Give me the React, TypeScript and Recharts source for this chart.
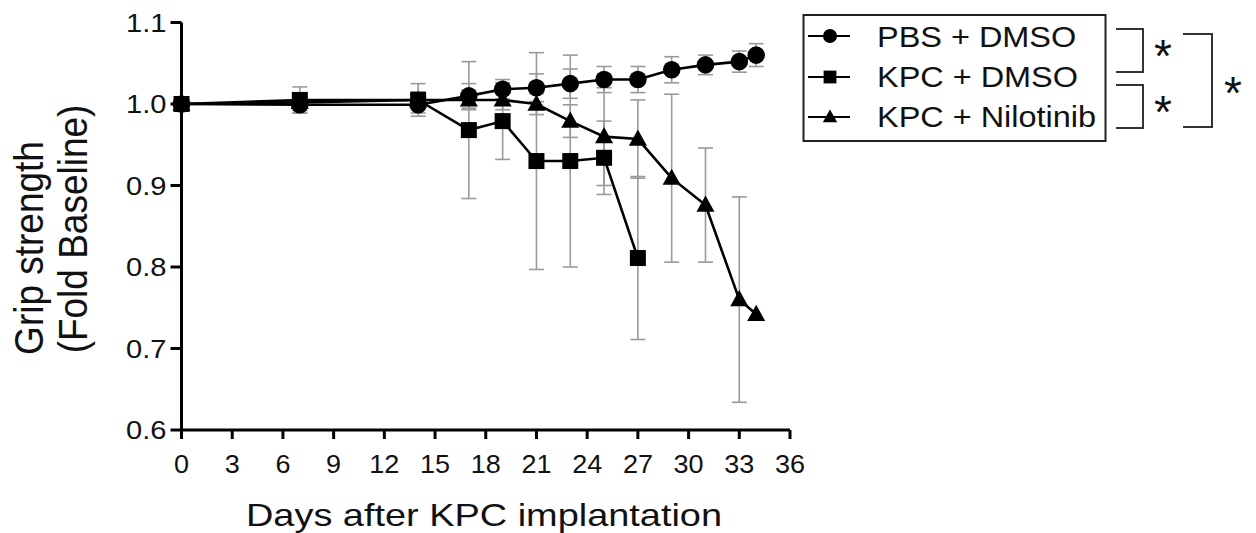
import { LineChart, Line, XAxis, YAxis, ErrorBar } from "recharts";

// days after implantation, mean grip strength (fold baseline), SEM
const pbsDays = [0, 7, 14, 17, 19, 21, 23, 25, 27, 29, 31, 33, 34];
const pbsMean = [1.0, 0.999, 0.999, 1.01, 1.018, 1.02, 1.025, 1.03, 1.03, 1.042, 1.048, 1.052, 1.06];
const pbsSem = [0, 0.01, 0.01, 0.015, 0.012, 0.017, 0.018, 0.016, 0.016, 0.016, 0.012, 0.013, 0.014];

const kpcDays = [0, 7, 14, 17, 19, 21, 23, 25, 27];
const kpcMean = [1.0, 1.005, 1.005, 0.968, 0.979, 0.93, 0.93, 0.934, 0.811];
const kpcSem = [0, 0.016, 0.02, 0.084, 0.047, 0.133, 0.13, 0.045, 0.1];

const niloDays = [0, 7, 14, 17, 19, 21, 23, 25, 27, 29, 31, 33, 34];
const niloMean = [1.0, 1.002, 1.005, 1.005, 1.005, 1.0, 0.979, 0.96, 0.957, 0.909, 0.876, 0.76, 0.742];
const niloSem = [0, 0.01, 0.01, 0.012, 0.012, 0.013, 0.02, 0.06, 0.048, 0.103, 0.07, 0.126, 0];

const xTicks = [0, 3, 6, 9, 12, 15, 18, 21, 24, 27, 30, 33, 36];
const yTicks = [0.6, 0.7, 0.8, 0.9, 1.0, 1.1];

const seriesNames = ["PBS + DMSO", "KPC + DMSO", "KPC + Nilotinib"];

const toRows = (days: number[], mean: number[], sem: number[]) =>
  days.map((d, i) => ({ day: d, value: mean[i], err: sem[i] }));

const FONT = "'Liberation Sans', Arial, sans-serif";
const ERR = "#9a9a9a";
const TXT = "#111";
// the source figure is slightly stretched sideways
const SX = 1.12;

type Kind = "circle" | "square" | "triangle";

function Marker({ kind, cx, cy, s = 1 }: { kind: Kind; cx: number; cy: number; s?: number }) {
  if (kind === "circle") return <circle cx={cx} cy={cy} r={8.8 * s} fill="#000" />;
  if (kind === "square") {
    const h = 8 * s;
    return <rect x={cx - h} y={cy - h} width={2 * h} height={2 * h} fill="#000" />;
  }
  const h = 9.5 * s;
  return (
    <polygon
      points={`${cx},${cy - h} ${cx + h * 0.95},${cy + h * 0.7} ${cx - h * 0.95},${cy + h * 0.7}`}
      fill="#000"
    />
  );
}

const dotFor = (kind: Kind) => (props: any) => {
  const { cx, cy, index } = props;
  return <Marker key={`${kind}-${index}`} kind={kind} cx={cx} cy={cy} />;
};

const YTick = (props: any) => {
  const { x, y, payload } = props;
  return (
    <text
      transform={`translate(${x},${y}) scale(${SX},1)`}
      textAnchor="end"
      dy="0.36em"
      fontSize={26}
      fontFamily={FONT}
      fill={TXT}
    >
      {Number(payload.value).toFixed(1)}
    </text>
  );
};

const XTick = (props: any) => {
  const { x, y, payload } = props;
  return (
    <text
      transform={`translate(${x},${y}) scale(1.08,1)`}
      textAnchor="middle"
      dy="0.71em"
      fontSize={25}
      fontFamily={FONT}
      fill={TXT}
    >
      {payload.value}
    </text>
  );
};

const YLabel = () => (
  <g fontFamily={FONT} fontSize={37} fill={TXT}>
    <text transform={`translate(43,248) scale(${SX},1) rotate(-90)`} textAnchor="middle">
      Grip strength
    </text>
    <text transform={`translate(87,229) scale(${SX},1) rotate(-90)`} textAnchor="middle">
      (Fold Baseline)
    </text>
  </g>
);

const XLabel = () => (
  <text
    x={246}
    y={526}
    fontFamily={FONT}
    fontSize={32}
    fill={TXT}
    textLength={476}
    lengthAdjust="spacingAndGlyphs"
  >
    Days after KPC implantation
  </text>
);

function LegendBox() {
  const kinds: Kind[] = ["circle", "square", "triangle"];
  const rowY = [36, 77, 117];
  const baseY = [47, 87, 127];
  return (
    <svg
      width={1256}
      height={533}
      style={{ position: "absolute", left: 0, top: 0, pointerEvents: "none" }}
    >
      <rect x={803.5} y={15} width={302} height={126} fill="none" stroke="#222" strokeWidth={2} />
      {kinds.map((k, i) => (
        <g key={k}>
          <line x1={808} x2={850} y1={rowY[i]} y2={rowY[i]} stroke="#000" strokeWidth={2} />
          <Marker kind={k} cx={830} cy={rowY[i]} s={0.8} />
          <text
            transform={`translate(877,${baseY[i]}) scale(1.1,1)`}
            fontFamily={FONT}
            fontSize={29.5}
            fill={TXT}
          >
            {seriesNames[i]}
          </text>
        </g>
      ))}
      <g fill="none" stroke="#333" strokeWidth={2}>
        <polyline points="1116,29 1143,29 1143,72 1116,72" />
        <polyline points="1116,85 1143,85 1143,128 1116,128" />
        <polyline points="1183,34 1212,34 1212,127 1183,127" />
      </g>
      <g fontFamily={FONT} fontSize={46} fill={TXT} textAnchor="middle">
        <text x={1163} y={72}>*</text>
        <text x={1163} y={128}>*</text>
        <text x={1233} y={109}>*</text>
      </g>
    </svg>
  );
}

export default function App() {
  const pbs = toRows(pbsDays, pbsMean, pbsSem);
  const kpc = toRows(kpcDays, kpcMean, kpcSem);
  const nilo = toRows(niloDays, niloMean, niloSem);
  const groups = [
    { rows: pbs, kind: "circle" as Kind },
    { rows: kpc, kind: "square" as Kind },
    { rows: nilo, kind: "triangle" as Kind },
  ];

  return (
    <div style={{ position: "absolute", left: 0, top: 0, width: 1256, height: 533, background: "#fff" }}>
      <LineChart width={1256} height={533} margin={{ top: 22.5, right: 466, bottom: 73, left: 101.5 }}>
        <XAxis
          dataKey="day"
          type="number"
          domain={[0, 36]}
          ticks={xTicks}
          interval={0}
          allowDuplicatedCategory={false}
          stroke="#000"
          strokeWidth={3}
          tickSize={9}
          tickMargin={16}
          tick={<XTick />}
          height={30}
          label={{ content: () => <XLabel /> }}
        />
        <YAxis
          type="number"
          domain={[0.6, 1.1]}
          ticks={yTicks}
          interval={0}
          stroke="#000"
          strokeWidth={3}
          tickSize={11}
          tickMargin={4}
          width={80}
          tick={<YTick />}
          label={{ content: () => <YLabel /> }}
        />
        {/* error bars first so the markers sit on top of them */}
        {groups.map((g, i) => (
          <Line
            key={`err-${i}`}
            data={g.rows}
            dataKey="value"
            stroke="none"
            dot={false}
            activeDot={false}
            legendType="none"
            isAnimationActive={false}
          >
            <ErrorBar dataKey="err" width={7.5} stroke={ERR} strokeWidth={1.6} direction="y" />
          </Line>
        ))}
        {groups.map((g, i) => (
          <Line
            key={`line-${i}`}
            data={g.rows}
            dataKey="value"
            name={seriesNames[i]}
            stroke="#000"
            strokeWidth={2.6}
            dot={dotFor(g.kind)}
            isAnimationActive={false}
          />
        ))}
      </LineChart>
      <LegendBox />
    </div>
  );
}
